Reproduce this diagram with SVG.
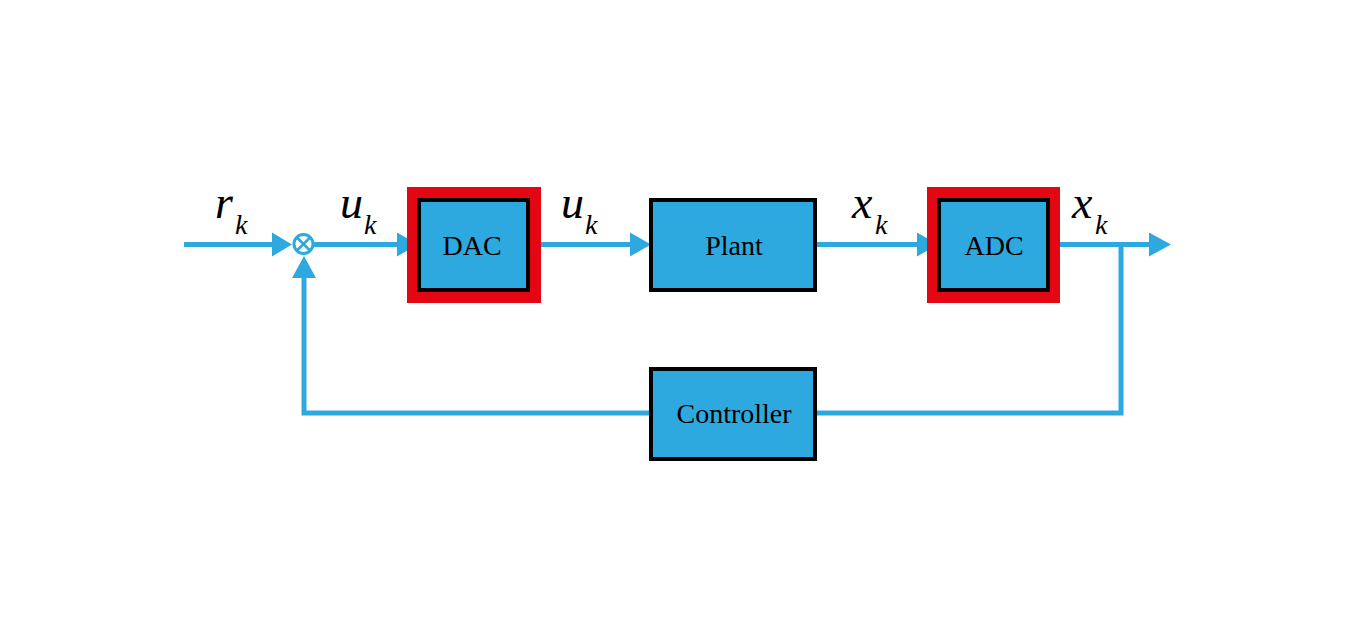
<svg xmlns="http://www.w3.org/2000/svg" width="1355" height="624" viewBox="0 0 1355 624">
<style>
.ln{fill:none;stroke:#2EA9E0;stroke-width:5}
.box{fill:#2EA9E0;stroke:#000;stroke-width:4}
.red{fill:#E30613}
.t{font-family:"Liberation Serif",serif;font-size:28px;fill:#000;text-anchor:middle}
.v{font-family:"Liberation Serif",serif;font-style:italic;font-size:46px;fill:#000}
.s{font-family:"Liberation Serif",serif;font-style:italic;font-size:28px;fill:#000}
.ah{fill:#2EA9E0}
</style>
<rect width="1355" height="624" fill="#fff"/>
<g id="connectors">
<path class="ln" d="M184,244.5 H275"/>
<polygon class="ah" points="292,244.5 272,232.5 272,256.5"/>
<path class="ln" d="M314,244.5 H400"/>
<polygon class="ah" points="418,244.5 397,232.5 397,256.5"/>
<path class="ln" d="M530,244.5 H633"/>
<polygon class="ah" points="651,244.5 630,232.5 630,256.5"/>
<path class="ln" d="M817,244.5 H920"/>
<polygon class="ah" points="938,244.5 917,232.5 917,256.5"/>
<path class="ln" d="M1050,244.5 H1152"/>
<polygon class="ah" points="1171,244.5 1149,232.5 1149,256.5"/>
<path class="ln" d="M1121,244.5 V413 H817"/>
<path class="ln" d="M650,413 H304 V274"/>
<polygon class="ah" points="304,256 292,278 316,278"/>
</g>
<g id="sum">
<circle cx="303.5" cy="244" r="9.5" fill="#fff" stroke="#2EA9E0" stroke-width="3"/>
<path d="M297,237.5 L310,250.5 M310,237.5 L297,250.5" stroke="#2EA9E0" stroke-width="2.5"/>
</g>
<g id="dac">
<rect class="red" x="407" y="187" width="134" height="116"/>
<rect class="box" x="419" y="200" width="109" height="90"/>
<text class="t" x="472" y="255">DAC</text>
</g>
<g id="plant">
<rect class="box" x="651" y="200" width="164" height="90"/>
<text class="t" x="734" y="255">Plant</text>
</g>
<g id="adc">
<rect class="red" x="927" y="187" width="133" height="116"/>
<rect class="box" x="939" y="200" width="109" height="90"/>
<text class="t" x="994" y="255">ADC</text>
</g>
<g id="controller">
<rect class="box" x="651" y="369" width="164" height="90"/>
<text class="t" x="734" y="423">Controller</text>
</g>
<g id="labels">
<text class="v" x="215" y="218">r</text><text class="s" x="235" y="234">k</text>
<text class="v" x="340" y="218">u</text><text class="s" x="364" y="234">k</text>
<text class="v" x="561" y="218">u</text><text class="s" x="585" y="234">k</text>
<text class="v" x="852" y="218">x</text><text class="s" x="875" y="234">k</text>
<text class="v" x="1072" y="218">x</text><text class="s" x="1095" y="234">k</text>
</g>
</svg>
